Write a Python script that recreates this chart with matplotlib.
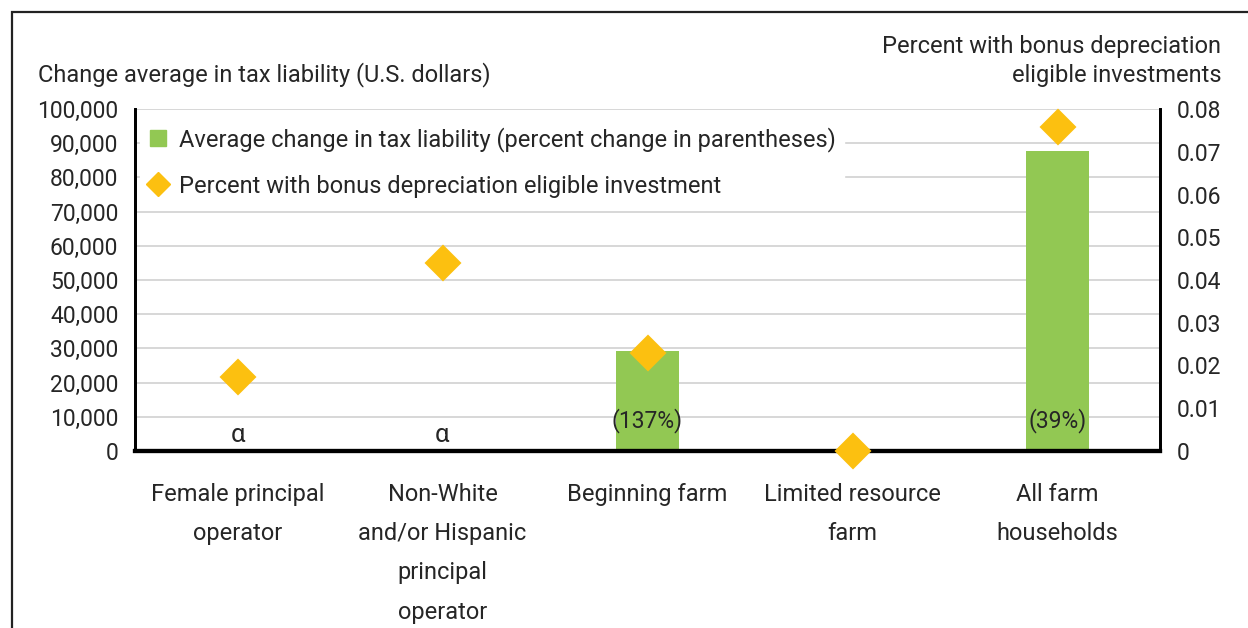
import numpy as np
import matplotlib.pyplot as plt
from matplotlib.lines import Line2D
from matplotlib.patches import Rectangle
from matplotlib.ticker import FuncFormatter, MultipleLocator

plt.rcParams.update({
    "font.family": ["Roboto", "DejaVu Sans"],
    "font.size": 17,
    "text.color": "#262626",
    "axes.labelcolor": "#262626",
    "xtick.color": "#262626",
    "ytick.color": "#262626",
})

categories = [
    "Female principal\noperator",
    "Non-White\nand/or Hispanic\nprincipal\noperator",
    "Beginning farm",
    "Limited resource\nfarm",
    "All farm\nhouseholds",
]
tax_change = [0, 0, 29200, 0, 87700]          # U.S. dollars
bar_labels = ["α", "α", "(137%)", "", "(39%)"]
pct_bonus = [0.0173, 0.0440, 0.0229, 0.0, 0.0758]

GREEN = "#92c853"
GOLD = "#fcc010"

fig = plt.figure(figsize=(12.48, 6.28), dpi=100)
# outer frame (only left and top edges visible in the crop)
fig.patches.append(Rectangle((12 / 1248, -0.2), 1.2, 1.2 - 12 / 628,
                             transform=fig.transFigure, fill=False,
                             edgecolor="#222222", lw=1.6))

ax = fig.add_axes([135 / 1248, 1 - 451 / 628, 1025 / 1248, 342 / 628])
ax2 = ax.twinx()

x = np.arange(len(categories))
ax.bar(x, tax_change, width=0.31, color=GREEN, zorder=2)

for xi, val, lab in zip(x, tax_change, bar_labels):
    if not lab:
        continue
    ypos = 4700 if val == 0 else 9000
    ax.text(xi, ypos, lab, ha="center", va="center",
            fontsize=18.5 if lab == "α" else 16.5, zorder=3)

ax2.plot(x, pct_bonus, ls="none", marker="D", ms=17, color=GOLD,
         mec=GOLD, mew=1.5, clip_on=False, zorder=5)

# axes limits and ticks
ax.set_xlim(-0.5, len(categories) - 0.5)
ax.set_ylim(0, 100000)
ax.yaxis.set_major_locator(MultipleLocator(10000))
ax.yaxis.set_major_formatter(FuncFormatter(lambda v, p: f"{v:,.0f}"))
ax2.set_ylim(0, 0.08)
ax2.yaxis.set_major_locator(MultipleLocator(0.01))
ax2.yaxis.set_major_formatter(FuncFormatter(lambda v, p: "0" if v == 0 else f"{v:.2f}"))

ax.set_xticks(x)
ax.set_xticklabels(categories, linespacing=1.9, va="top")
ax.tick_params(axis="x", length=0, pad=23, labelsize=17)
ax.tick_params(axis="y", length=0, pad=12, labelsize=16.5)
ax2.tick_params(axis="y", length=0, pad=12, labelsize=16.5)

ax.grid(True, axis="y", color="#d4d4d4", lw=1.3, zorder=0)
ax.set_axisbelow(True)

for a in (ax, ax2):
    a.spines["top"].set_visible(False)
    a.spines["left"].set_linewidth(2)
    a.spines["right"].set_linewidth(2)
    a.spines["bottom"].set_linewidth(3)
    for s in a.spines.values():
        s.set_color("black")

# axis titles
fig.text(38 / 1248, 1 - 75 / 628, "Change average in tax liability (U.S. dollars)",
         ha="left", va="center")
fig.text(1221 / 1248, 1 - 61 / 628, "Percent with bonus depreciation\neligible investments",
         ha="right", va="center", multialignment="right", linespacing=1.3)

handles = [
    Line2D([], [], ls="none", marker="s", ms=11.5, color=GREEN),
    Line2D([], [], ls="none", marker="D", ms=12, color=GOLD),
]
labels = [
    "Average change in tax liability (percent change in parentheses)",
    "Percent with bonus depreciation eligible investment",
]
leg = ax2.legend(handles, labels, loc="upper left",
                 bbox_to_anchor=(5 / 1025, 1 - 10 / 342),
                 frameon=True, fancybox=False, framealpha=1,
                 edgecolor="white", facecolor="white",
                 labelspacing=0.95, handlelength=0.8, handletextpad=0.5,
                 borderpad=0.35, borderaxespad=0)
leg.set_zorder(4)

fig.savefig("out.png", dpi=100)
